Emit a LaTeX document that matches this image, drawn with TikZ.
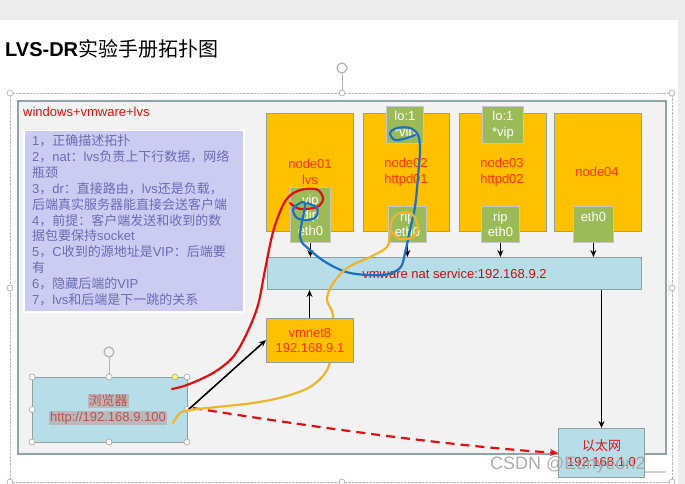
\documentclass[tikz,border=0pt]{standalone}
\usepackage{fontspec}
\setmainfont{Liberation Sans}
\newfontfamily\cjk{Noto Sans CJK SC}
\usetikzlibrary{arrows.meta}
\newcommand{\zh}[1]{{\cjk\mdseries #1}}
\definecolor{orng}{HTML}{FFC000}
\definecolor{grn}{HTML}{9BBB59}
\definecolor{lblue}{HTML}{B7DEE8}
\definecolor{lav}{HTML}{CCCCF2}
\definecolor{lavtext}{HTML}{6B6BB5}
\definecolor{framec}{HTML}{8FA5A5}
\definecolor{framefill}{HTML}{F2F2F2}
\definecolor{nred}{HTML}{FF3300}
\definecolor{bred}{HTML}{C05050}
\definecolor{penred}{HTML}{E01010}
\definecolor{penblue}{HTML}{1F6FC0}
\definecolor{penyel}{HTML}{F0B429}
\definecolor{boxline}{HTML}{8FA0A0}
\tikzset{
  fs/.style={font=\fontsize{13}{15.5}\selectfont},
  obox/.style={draw=boxline, line width=0.8pt, fill=orng, anchor=north west, inner sep=0},
  gbox/.style={draw=gray!45, line width=0.8pt, fill=grn, anchor=north west, inner sep=0},
  bbox/.style={draw=boxline, line width=1pt, fill=lblue, anchor=north west, inner sep=0},
  ntext/.style={fs, text=nred, align=center, inner sep=0},
  wtext/.style={fs, text=white, align=center, inner sep=0},
  arr/.style={draw=black, line width=1.6pt, -{Stealth[length=7pt,width=6pt]}},
  pen/.style={line width=2.2pt, line cap=round, line join=round},
  handle/.style={draw=gray!70, fill=white, line width=0.6pt},
  lavline/.style={fs, text=lavtext, anchor=base west, inner sep=0},
}
\begin{document}
\begin{tikzpicture}[x=1pt,y=-1pt]
\useasboundingbox (0,0) rectangle (685,484);
\fill[gray!15] (0,0) rectangle (685,484);
\fill[white] (0,20) rectangle (678,484);
% title
\node[anchor=base west, inner sep=0] (title) at (5,57)
  {\fontsize{20}{24}\selectfont\bfseries LVS-DR\zh{\fontsize{20}{24}\selectfont 实验手册拓扑图}};
% selection frame of slide
\draw[gray!55, densely dotted] (10,93) rectangle (672,482);
\draw[gray!60, line width=0.6pt] (342,74) -- (342,93);
\draw[gray!60, line width=1.2pt] (342,68) circle (5);
\foreach \p in {(10,93),(342,93),(672,93),(10,288),(672,288),(10,482),(342,482),(672,482)}
  \draw[handle] \p circle (3);
% main frame
\node[draw=framec, line width=1.6pt, fill=framefill, anchor=north west, minimum width=648, minimum height=353, inner sep=0] (frame) at (17,100) {};
\node[fs, text=penred, anchor=base west, inner sep=0] (wvl) at (23,117) {windows+vmware+lvs};
% notes
\node[draw=white, line width=1.5pt, fill=lav, anchor=north west, minimum width=220, minimum height=181, inner sep=0] (notes) at (23,130) {};
\foreach \t [count=\i] in {
  {1\zh{，正确描述拓扑}},
  {2\zh{，}nat\zh{：}lvs\zh{负责上下行数据，网络}},
  {\zh{瓶颈}},
  {3\zh{，}dr\zh{：直接路由，}lvs\zh{还是负载，}},
  {\zh{后端真实服务器能直接会送客户端}},
  {4\zh{，前提：客户端发送和收到的数}},
  {\zh{据包要保持}socket},
  {5\zh{，}C\zh{收到的源地址是}VIP\zh{：后端要}},
  {\zh{有}},
  {6\zh{，隐藏后端的}VIP},
  {7\zh{，}lvs\zh{和后端是下一跳的关系}}}
  \node[lavline] (line\i) at (32,{146+(\i-1)*15.8}) {\t};
% nodes
\node[obox, minimum width=87, minimum height=118] (n1) at (266,113) {};
\node[obox, minimum width=86, minimum height=118] (n2) at (363,113) {};
\node[obox, minimum width=87, minimum height=118] (n3) at (459,113) {};
\node[obox, minimum width=87, minimum height=118] (n4) at (554,113) {};
\node[ntext] (n1t) at (310,172) {node01\\lvs};
\node[ntext] (n2t) at (406,172) {node02\\httpd01};
\node[ntext] (n3t) at (502,172) {node03\\httpd02};
\node[ntext] (n4t) at (597,172) {node04};
% green boxes
\node[gbox, minimum width=40, minimum height=55] (g1) at (290,187) {};
\node[wtext] (g1t) at (g1.center) {vip\\dip\\eth0};
\node[gbox, minimum width=37, minimum height=37] (g2a) at (386,106) {};
\node[wtext] (g2at) at (g2a.center) {lo:1\\*vip};
\node[gbox, minimum width=38, minimum height=36] (g2b) at (388,206) {};
\node[wtext] (g2bt) at (g2b.center) {rip\\eth0};
\node[gbox, minimum width=41, minimum height=37] (g3a) at (482,106) {};
\node[wtext] (g3at) at (g3a.center) {lo:1\\*vip};
\node[gbox, minimum width=38, minimum height=36] (g3b) at (481,206) {};
\node[wtext] (g3bt) at (g3b.center) {rip\\eth0};
\node[gbox, minimum width=40, minimum height=36] (g4) at (573,206) {};
\node[wtext] (g4t) at ([yshift=8]g4.center) {eth0};
% nat bar
\node[bbox, minimum width=374, minimum height=32] (nat) at (267,257) {};
\node[fs, text=penred!90!black, inner sep=0] (natt) at (nat.center) {vmware nat service:192.168.9.2};
% arrows to nat
\foreach \g in {g1,g2b,g3b,g4}
  \draw[arr] (\g.south) -- (\g.south |- nat.north);
% browser
\node[bbox, minimum width=155, minimum height=65] (br) at (32,377) {};
\node[fs, fill=gray!55, text=bred, inner sep=1pt] (brt1) at (108,401) {\zh{浏览器}};
\node[fs, fill=gray!55, text=bred, inner sep=1pt] (brt2) at (108,418) {http://192.168.9.100};
\draw[gray!60, line width=0.6pt] (109,358) -- (109,377);
\draw[gray!60, line width=1.2pt] (109,352) circle (5);
\foreach \p in {(32,377),(109,377),(187,377),(32,409.5),(187,409.5),(32,442),(109,442),(187,442)}
  \draw[handle] \p circle (3);
\draw[handle, fill=yellow!60] (175,377) circle (3);
% ethernet
\node[bbox, minimum width=86, minimum height=49] (eth) at (558,428) {};
\node[ntext, text=penred] (etht) at (eth.center) {\zh{以太网}\\192.168.1.0};
% vmnet8 placeholder coordinates
\coordinate (vmN) at (309.5,318);
\coordinate (vmW) at (266,340);
% connectors
\draw[arr] (vmN) -- (vmN |- nat.south);
\draw[arr] (nat.south -| eth.north) -- (eth.north);
\draw[arr] (br.east) -- (vmW);
\draw[penred, line width=2.2pt, dash pattern=on 9pt off 6pt, -{Stealth[length=8pt,width=7pt]}]
  ([xshift=5pt,yshift=2pt]br.east) .. controls (320,428) and (450,446) .. (eth.west);
% pen annotations
\draw[pen, penred] plot[smooth, tension=0.55] coordinates {(172,389) (187,385) (213,373) (233,357) (247,333) (258,305) (265,270) (273,232) (283,205) (292,194) (305,189) (318,190) (323,199) (317,207) (300,209) (290,203)};
\draw[pen, penblue] plot[smooth, tension=0.55] coordinates {(307,203) (317,208) (316,217) (307,220) (297,218) (293,210) (297,205) (305,204) (300,237) (310,250) (327,263) (350,273) (383,275) (400,268) (405,253) (410,230) (415,207) (418,177) (420,150) (418,135) (410,128) (397,128) (390,133) (395,140) (407,138) (415,135)};
\draw[pen, penyel] plot[smooth, tension=0.55] coordinates {(173,423) (180,413) (190,410) (217,407) (253,403) (283,397) (310,387) (327,370) (333,345) (333,315) (327,300) (332,285) (347,268) (370,257) (387,247) (390,233) (392,220) (400,213) (412,214) (418,227) (413,237) (400,239) (392,232)};
% vmnet8 box
\node[obox, minimum width=87, minimum height=44] (vm) at (266,318) {};
\node[ntext] (vmt) at (vm.center) {vmnet8\\192.168.9.1};
% watermark
\node[text=gray!75, opacity=0.85, anchor=base west, inner sep=0, font=\fontsize{18}{20}\selectfont] (wm) at (490,469) {CSDN @Eunyeon2\_\_};
\end{tikzpicture}
\end{document}
